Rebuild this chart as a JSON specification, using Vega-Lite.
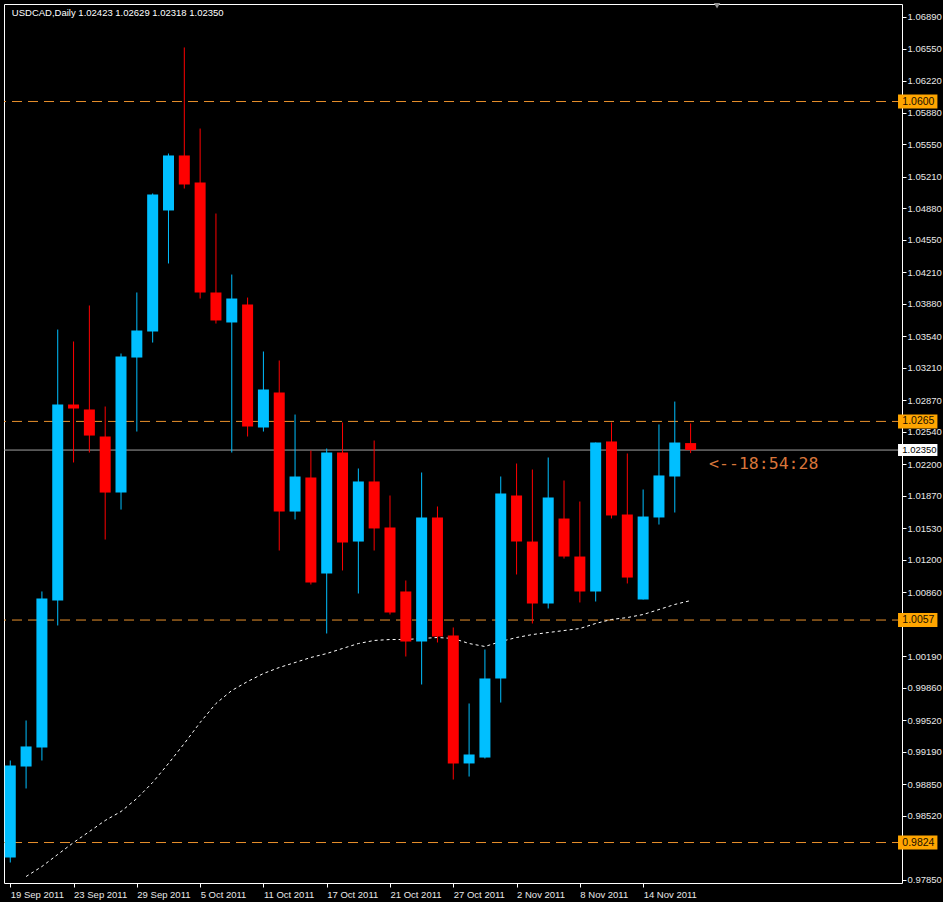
{
  "$schema": "https://vega.github.io/schema/vega-lite/v6.json",
  "width": 898,
  "height": 879,
  "autosize": {"type": "none"},
  "padding": {"left": 4, "top": 4, "right": 41, "bottom": 19},
  "background": "#000000",
  "config": {
    "view": {"stroke": "#ffffff", "strokeWidth": 1, "fill": "#000000"},
    "axis": {"grid": false, "domain": false, "labelFont": "Liberation Sans", "labelFontSize": 9.5, "labelColor": "#e8e8e8", "tickColor": "#ffffff", "tickSize": 4, "labelOverlap": false, "labelBound": false, "labelFlush": false}
  },
  "datasets": {
    "candles": [
      {"i": 0, "date": "2011-09-19", "o": 0.98083, "h": 0.99099, "l": 0.98031, "c": 0.99047},
      {"i": 1, "date": "2011-09-20", "o": 0.99036, "h": 0.99518, "l": 0.98806, "c": 0.99246},
      {"i": 2, "date": "2011-09-21", "o": 0.99235, "h": 1.00869, "l": 0.99099, "c": 1.00795},
      {"i": 3, "date": "2011-09-22", "o": 1.00774, "h": 1.03612, "l": 1.00513, "c": 1.02827},
      {"i": 4, "date": "2011-09-23", "o": 1.02827, "h": 1.03487, "l": 1.02220, "c": 1.02785},
      {"i": 5, "date": "2011-09-26", "o": 1.02775, "h": 1.03864, "l": 1.02324, "c": 1.02502},
      {"i": 6, "date": "2011-09-27", "o": 1.02492, "h": 1.02806, "l": 1.01413, "c": 1.01905},
      {"i": 7, "date": "2011-09-28", "o": 1.01905, "h": 1.03361, "l": 1.01727, "c": 1.03330},
      {"i": 8, "date": "2011-09-29", "o": 1.03319, "h": 1.04000, "l": 1.02544, "c": 1.03602},
      {"i": 9, "date": "2011-09-30", "o": 1.03591, "h": 1.05037, "l": 1.03476, "c": 1.05026},
      {"i": 10, "date": "2011-10-03", "o": 1.04859, "h": 1.05455, "l": 1.04304, "c": 1.05435},
      {"i": 11, "date": "2011-10-04", "o": 1.05435, "h": 1.06566, "l": 1.05089, "c": 1.05131},
      {"i": 12, "date": "2011-10-05", "o": 1.05152, "h": 1.05717, "l": 1.03937, "c": 1.04000},
      {"i": 13, "date": "2011-10-06", "o": 1.04000, "h": 1.04827, "l": 1.03675, "c": 1.03707},
      {"i": 14, "date": "2011-10-07", "o": 1.03686, "h": 1.04188, "l": 1.02324, "c": 1.03937},
      {"i": 15, "date": "2011-10-10", "o": 1.03874, "h": 1.03947, "l": 1.02492, "c": 1.02597},
      {"i": 16, "date": "2011-10-11", "o": 1.02586, "h": 1.03382, "l": 1.02544, "c": 1.02984},
      {"i": 17, "date": "2011-10-12", "o": 1.02953, "h": 1.03288, "l": 1.01298, "c": 1.01706},
      {"i": 18, "date": "2011-10-13", "o": 1.01706, "h": 1.02722, "l": 1.01623, "c": 1.02073},
      {"i": 19, "date": "2011-10-14", "o": 1.02063, "h": 1.02345, "l": 1.00942, "c": 1.00963},
      {"i": 20, "date": "2011-10-17", "o": 1.01057, "h": 1.02366, "l": 1.00429, "c": 1.02324},
      {"i": 21, "date": "2011-10-18", "o": 1.02324, "h": 1.02639, "l": 1.01089, "c": 1.01382},
      {"i": 22, "date": "2011-10-19", "o": 1.01392, "h": 1.02157, "l": 1.00848, "c": 1.02021},
      {"i": 23, "date": "2011-10-20", "o": 1.02021, "h": 1.02450, "l": 1.01298, "c": 1.01529},
      {"i": 24, "date": "2011-10-21", "o": 1.01539, "h": 1.01874, "l": 1.00628, "c": 1.00649},
      {"i": 25, "date": "2011-10-24", "o": 1.00869, "h": 1.00984, "l": 1.00188, "c": 1.00345},
      {"i": 26, "date": "2011-10-25", "o": 1.00345, "h": 1.02115, "l": 0.99895, "c": 1.01644},
      {"i": 27, "date": "2011-10-26", "o": 1.01644, "h": 1.01759, "l": 1.00335, "c": 1.00397},
      {"i": 28, "date": "2011-10-27", "o": 1.00408, "h": 1.00492, "l": 0.98900, "c": 0.99068},
      {"i": 29, "date": "2011-10-28", "o": 0.99068, "h": 0.99696, "l": 0.98931, "c": 0.99162},
      {"i": 30, "date": "2011-10-31", "o": 0.99130, "h": 1.00261, "l": 0.99120, "c": 0.99958},
      {"i": 31, "date": "2011-11-01", "o": 0.99958, "h": 1.02073, "l": 0.99706, "c": 1.01895},
      {"i": 32, "date": "2011-11-02", "o": 1.01874, "h": 1.02209, "l": 1.01047, "c": 1.01392},
      {"i": 33, "date": "2011-11-03", "o": 1.01392, "h": 1.02146, "l": 1.00534, "c": 1.00743},
      {"i": 34, "date": "2011-11-04", "o": 1.00743, "h": 1.02272, "l": 1.00691, "c": 1.01853},
      {"i": 35, "date": "2011-11-07", "o": 1.01633, "h": 1.02031, "l": 1.01214, "c": 1.01235},
      {"i": 36, "date": "2011-11-08", "o": 1.01235, "h": 1.01811, "l": 1.00754, "c": 1.00869},
      {"i": 37, "date": "2011-11-09", "o": 1.00869, "h": 1.02429, "l": 1.00764, "c": 1.02429},
      {"i": 38, "date": "2011-11-10", "o": 1.02440, "h": 1.02639, "l": 1.01633, "c": 1.01665},
      {"i": 39, "date": "2011-11-11", "o": 1.01675, "h": 1.02314, "l": 1.00953, "c": 1.01015},
      {"i": 40, "date": "2011-11-14", "o": 1.00785, "h": 1.01937, "l": 1.00785, "c": 1.01654},
      {"i": 41, "date": "2011-11-15", "o": 1.01644, "h": 1.02618, "l": 1.01570, "c": 1.02084},
      {"i": 42, "date": "2011-11-16", "o": 1.02073, "h": 1.02858, "l": 1.01696, "c": 1.02429},
      {"i": 43, "date": "2011-11-17", "o": 1.02423, "h": 1.02629, "l": 1.02318, "c": 1.02350}
    ],
    "ma": [
      {"i": 1, "v": 0.97884}, {"i": 2, "v": 0.97989}, {"i": 3, "v": 0.98115}, {"i": 4, "v": 0.98240},
      {"i": 5, "v": 0.98355}, {"i": 6, "v": 0.98471}, {"i": 7, "v": 0.98565}, {"i": 8, "v": 0.98701},
      {"i": 9, "v": 0.98869}, {"i": 10, "v": 0.99068}, {"i": 11, "v": 0.99277}, {"i": 12, "v": 0.99497},
      {"i": 13, "v": 0.99696}, {"i": 14, "v": 0.99832}, {"i": 15, "v": 0.99926}, {"i": 16, "v": 1.00010},
      {"i": 17, "v": 1.00073}, {"i": 18, "v": 1.00125}, {"i": 19, "v": 1.00178}, {"i": 20, "v": 1.00219},
      {"i": 21, "v": 1.00272}, {"i": 22, "v": 1.00324}, {"i": 23, "v": 1.00356}, {"i": 24, "v": 1.00366},
      {"i": 25, "v": 1.00366}, {"i": 26, "v": 1.00377}, {"i": 27, "v": 1.00387}, {"i": 28, "v": 1.00377},
      {"i": 29, "v": 1.00324}, {"i": 30, "v": 1.00293}, {"i": 31, "v": 1.00345}, {"i": 32, "v": 1.00387},
      {"i": 33, "v": 1.00418}, {"i": 34, "v": 1.00439}, {"i": 35, "v": 1.00460}, {"i": 36, "v": 1.00481},
      {"i": 37, "v": 1.00534}, {"i": 38, "v": 1.00576}, {"i": 39, "v": 1.00596}, {"i": 40, "v": 1.00628},
      {"i": 41, "v": 1.00680}, {"i": 42, "v": 1.00733}, {"i": 43, "v": 1.00774}
    ],
    "levels": [
      {"p": 1.0600, "lab": "1.0600"},
      {"p": 1.0265, "lab": "1.0265"},
      {"p": 1.0057, "lab": "1.0057"},
      {"p": 0.9824, "lab": "0.9824"}
    ],
    "current": [{"p": 1.0235, "lab": "1.02350"}],
    "notes": [
      {"i": 0.1, "p": 1.06932, "t": "USDCAD,Daily  1.02423 1.02629 1.02318 1.02350", "kind": "title"},
      {"i": 44.17, "p": 1.02209, "t": "<--18:54:28", "kind": "timer"}
    ],
    "shift": [{"i": 44.67, "p": 1.07003}]
  },
  "encoding": {
    "x": {
      "type": "quantitative",
      "scale": {"domain": [-0.08, 56.045], "nice": false, "zero": false},
      "axis": {
        "orient": "bottom",
        "title": null,
        "values": [0, 4, 8, 12, 16, 20, 24, 28, 32, 36, 40],
        "labelExpr": "['19 Sep 2011','23 Sep 2011','29 Sep 2011','5 Oct 2011','11 Oct 2011','17 Oct 2011','21 Oct 2011','27 Oct 2011','2 Nov 2011','8 Nov 2011','14 Nov 2011'][round(datum.value/4)]",
        "labelAlign": "left",
        "labelBaseline": "top",
        "labelPadding": 2,
        "labelFontSize": 9.5
      }
    },
    "y": {
      "type": "quantitative",
      "scale": {"domain": [0.978162, 1.070212], "nice": false, "zero": false},
      "axis": {
        "orient": "right",
        "title": null,
        "values": [1.0689, 1.0655, 1.0622, 1.0588, 1.0555, 1.0521, 1.0488, 1.0455, 1.0421, 1.0388, 1.0354, 1.0321, 1.0287, 1.0254, 1.0220, 1.0187, 1.0153, 1.0120, 1.0086, 1.0019, 0.9986, 0.9952, 0.9919, 0.9885, 0.9852, 0.9785],
        "format": ".5f",
        "labelAlign": "left",
        "labelBaseline": "middle",
        "labelPadding": 1
      }
    }
  },
  "layer": [
    {
      "data": {"name": "levels"},
      "mark": {"type": "rule", "color": "#e8902c", "strokeWidth": 1, "strokeDash": [10, 6]},
      "encoding": {
        "x": null,
        "y": {"field": "p"}
      }
    },
    {
      "data": {"name": "current"},
      "mark": {"type": "rule", "color": "#a0a0a0", "strokeWidth": 1},
      "encoding": {
        "x": null,
        "y": {"field": "p"}
      }
    },
    {
      "data": {"name": "ma"},
      "mark": {"type": "line", "color": "#ffffff", "strokeWidth": 1, "strokeDash": [3, 3], "clip": true},
      "encoding": {
        "x": {"field": "i"},
        "y": {"field": "v"}
      }
    },
    {
      "data": {"name": "candles"},
      "mark": {"type": "rule", "strokeWidth": 1, "clip": true},
      "encoding": {
        "x": {"field": "i"},
        "y": {"field": "l"},
        "y2": {"field": "h"},
        "color": {"condition": {"test": "datum.c >= datum.o", "value": "#00bfff"}, "value": "#ff0000"}
      }
    },
    {
      "data": {"name": "candles"},
      "mark": {"type": "bar", "size": 11, "clip": true},
      "encoding": {
        "x": {"field": "i"},
        "y": {"field": "o"},
        "y2": {"field": "c"},
        "color": {"condition": {"test": "datum.c >= datum.o", "value": "#00bfff"}, "value": "#ff0000"}
      }
    },
    {
      "data": {"name": "levels"},
      "mark": {"type": "rect", "color": "#ffa500", "yOffset": -7, "y2Offset": 7},
      "encoding": {
        "x": {"datum": 56.11},
        "x2": {"datum": 58.6},
        "y": {"field": "p"},
        "y2": {"field": "p"}
      }
    },
    {
      "data": {"name": "levels"},
      "mark": {"type": "text", "align": "left", "baseline": "middle", "font": "Liberation Sans", "fontSize": 10.5, "color": "#1a1000"},
      "encoding": {
        "x": {"datum": 56.38},
        "y": {"field": "p"},
        "text": {"field": "lab"}
      }
    },
    {
      "data": {"name": "current"},
      "mark": {"type": "rect", "color": "#ffffff", "yOffset": -6, "y2Offset": 6},
      "encoding": {
        "x": {"datum": 56.11},
        "x2": {"datum": 58.6},
        "y": {"field": "p"},
        "y2": {"field": "p"}
      }
    },
    {
      "data": {"name": "current"},
      "mark": {"type": "text", "align": "left", "baseline": "middle", "font": "Liberation Sans", "fontSize": 9.5, "color": "#000000"},
      "encoding": {
        "x": {"datum": 56.38},
        "y": {"field": "p"},
        "text": {"field": "lab"}
      }
    },
    {
      "data": {"name": "notes"},
      "transform": [{"filter": "datum.kind == 'title'"}],
      "mark": {"type": "text", "align": "left", "baseline": "middle", "font": "Liberation Sans", "fontSize": 9.5, "color": "#ffffff"},
      "encoding": {
        "x": {"field": "i"},
        "y": {"field": "p"},
        "text": {"field": "t"}
      }
    },
    {
      "data": {"name": "notes"},
      "transform": [{"filter": "datum.kind == 'timer'"}],
      "mark": {"type": "text", "align": "left", "baseline": "middle", "font": "DejaVu Sans Mono", "fontSize": 16.5, "color": "#d8753a"},
      "encoding": {
        "x": {"field": "i"},
        "y": {"field": "p"},
        "text": {"field": "t"}
      }
    },
    {
      "data": {"name": "shift"},
      "mark": {"type": "point", "shape": "triangle-down", "filled": true, "color": "#909090", "size": 40, "opacity": 1},
      "encoding": {
        "x": {"field": "i"},
        "y": {"field": "p"}
      }
    }
  ]
}
